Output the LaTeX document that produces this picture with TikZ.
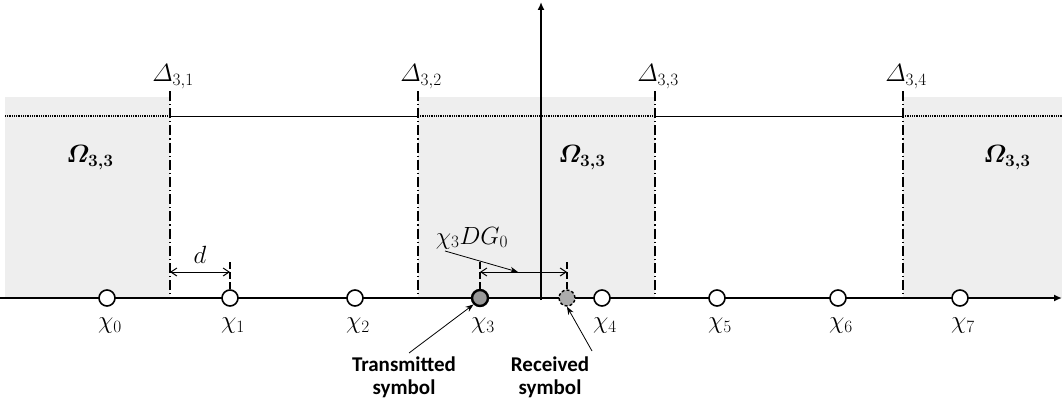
\documentclass[tikz,border=0pt]{standalone}
\usepackage{amsmath}
\usepackage{bm}
\usepackage{fontspec}
\newfontfamily\calibri{Carlito}
\usetikzlibrary{arrows.meta}
\definecolor{shade}{HTML}{EEEEEE}
\begin{document}
\begin{tikzpicture}[x=1pt,y=-1pt,
  axisline/.style={line width=1.8pt},
  region/.style={fill=shade,draw=none},
  bound/.style={line width=1.1pt,dash pattern=on 10pt off 3pt on 1.2pt off 3pt},
  level/.style={line width=0.9pt},
  leveldot/.style={line width=1.1pt,dash pattern=on 1pt off 0.8pt},
  tick/.style={line width=1.1pt,dash pattern=on 7pt off 3pt},
  sym/.style={circle,draw,line width=1.6pt,fill=white,minimum size=16pt,inner sep=0pt},
  txsym/.style={sym,fill=gray!80,line width=2.4pt},
  rxsym/.style={sym,fill=gray!65,densely dashed,line width=1.4pt},
  mlabel/.style={font=\fontsize{26}{30}\selectfont,inner sep=0pt},
  tlabel/.style={font=\calibri\bfseries\fontsize{21}{23}\selectfont,align=center,inner sep=0pt},
  dim/.style={line width=1pt,{Straight Barb[length=6pt,width=8pt]}-{Straight Barb[length=6pt,width=8pt]}},
  pointer/.style={line width=0.8pt,-{Stealth[length=8pt,width=6pt]}}]
\useasboundingbox (0,0) rectangle (1062,412);
% shaded regions
\fill[region] (5,97) rectangle (170,298);
\fill[region] (418,97) rectangle (655,298);
\fill[region] (903,97) rectangle (1062,298);
% level line
\draw[leveldot] (5,116) -- (170,116);
\draw[level] (170,116) -- (418,116);
\draw[leveldot] (418,116) -- (655,116);
\draw[level] (655,116) -- (903,116);
\draw[leveldot] (903,116) -- (1062,116);
% boundaries
\foreach \x/\n in {170/1,418/2,655/3,903/4}{
  \coordinate (bt\n) at (\x,91);
  \coordinate (bb\n) at (\x,298);
  \draw[bound] (bt\n) -- (bb\n);
  \node[mlabel,anchor=south] at (\x+3,89) {$\varDelta_{3,\n}$};
}
% axes
\coordinate (xa0) at (0,298);
\coordinate (xa1) at (1062,298);
\coordinate (ya0) at (541,300);
\coordinate (ya1) at (541,2);
\draw[axisline,-{Latex[length=8pt,width=7pt]}] (xa0) -- (xa1);
\draw[axisline,-{Latex[length=8pt,width=7pt]}] (ya0) -- (ya1);
% Omega labels
\node[mlabel] at (90,158) {$\bm{\varOmega_{3,3}}$};
\node[mlabel] at (582,158) {$\bm{\varOmega_{3,3}}$};
\node[mlabel] at (1007,158) {$\bm{\varOmega_{3,3}}$};
% ticks
\coordinate (d0) at (170,272);
\coordinate (t1a) at (230,262);
\coordinate (t1b) at (230,290);
\coordinate (t3a) at (480,262);
\coordinate (t3b) at (480,290);
\coordinate (tra) at (567,262);
\coordinate (trb) at (567,290);
\draw[tick] (t1a) -- (t1b);
\draw[tick] (t3a) -- (t3b);
\draw[tick] (tra) -- (trb);
\coordinate (d1) at (230,272);
\draw[dim] (d0) -- (d1);
\node[mlabel] (dl) at (200,255) {$d$};
\coordinate (e0) at (480,272);
\coordinate (e1) at (567,272);
\draw[dim] (e0) -- (e1);
\coordinate (em) at (518,272);
\node[mlabel] (el) at (472,238) {$\chi_3 D G_0$};
\coordinate (es) at (445,251);
\draw[pointer] (es) -- (em);
% symbols
\foreach \i/\x in {0/107,1/230,2/355,4/602,5/717,6/838,7/960}{
  \node[sym] (c\i) at (\x,298) {};
  \node[mlabel] at (\x+3,326) {$\chi_{\i}$};
}
\node[txsym] (c3) at (480,298) {};
\node[mlabel] at (483,326) {$\chi_{3}$};
\node[rxsym] (rx) at (567,298) {};
% annotations
\node[tlabel] (tt) at (404,377) {Transmitted\\symbol};
\node[tlabel] (rt) at (550,377) {Received\\symbol};
\coordinate (ts) at (409,353);
\coordinate (rs) at (592,351);
\draw[pointer] (ts) -- (c3.south west);
\draw[pointer] (rs) -- (rx.south);
\end{tikzpicture}
\end{document}
